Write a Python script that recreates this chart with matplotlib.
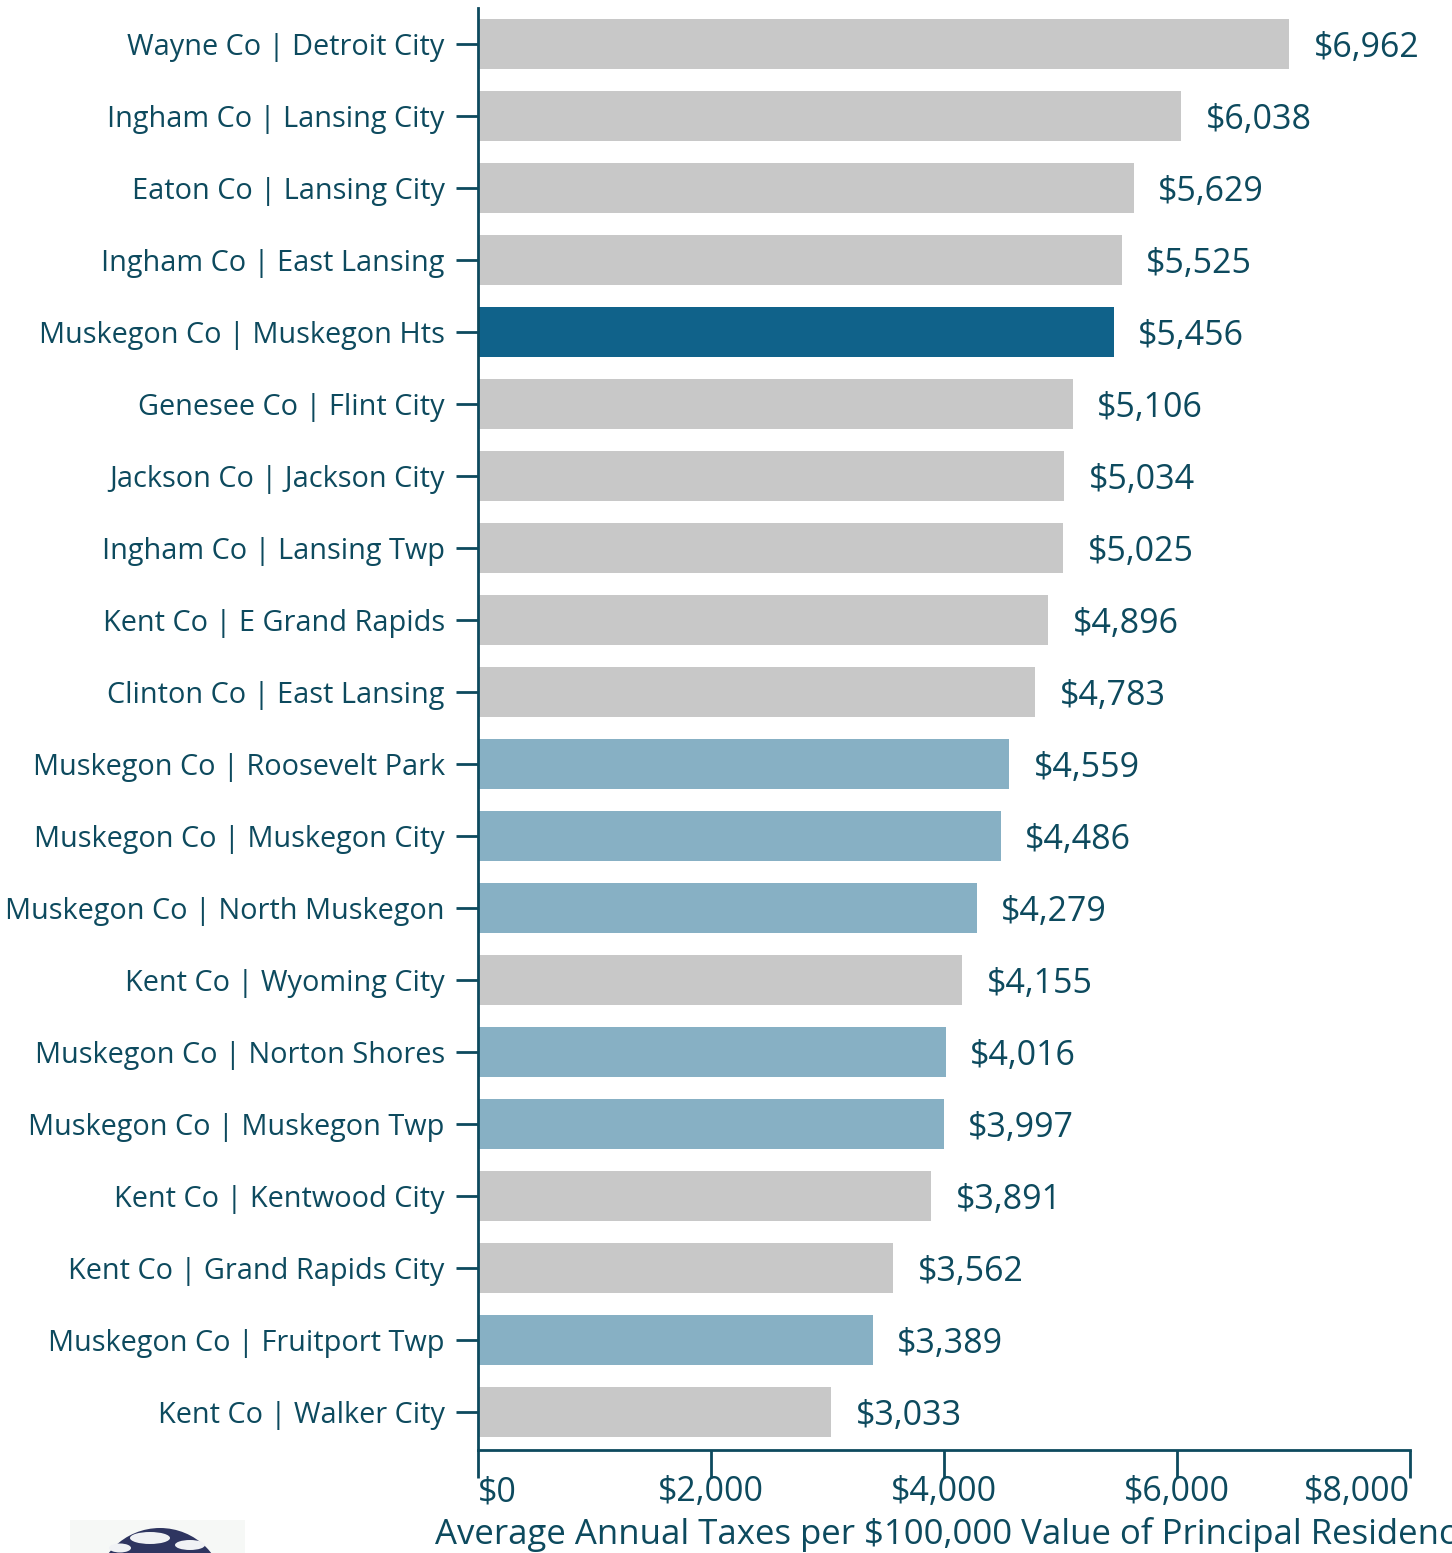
import numpy as np
import matplotlib.pyplot as plt
from matplotlib.patches import Circle, Ellipse, Rectangle

places = ['Wayne Co | Detroit City', 'Ingham Co | Lansing City', 'Eaton Co | Lansing City',
          'Ingham Co | East Lansing', 'Muskegon Co | Muskegon Hts', 'Genesee Co | Flint City',
          'Jackson Co | Jackson City', 'Ingham Co | Lansing Twp', 'Kent Co | E Grand Rapids',
          'Clinton Co | East Lansing', 'Muskegon Co | Roosevelt Park', 'Muskegon Co | Muskegon City',
          'Muskegon Co | North Muskegon', 'Kent Co | Wyoming City', 'Muskegon Co | Norton Shores',
          'Muskegon Co | Muskegon Twp', 'Kent Co | Kentwood City', 'Kent Co | Grand Rapids City',
          'Muskegon Co | Fruitport Twp', 'Kent Co | Walker City']
taxes = [6962, 6038, 5629, 5525, 5456, 5106, 5034, 5025, 4896, 4783,
         4559, 4486, 4279, 4155, 4016, 3997, 3891, 3562, 3389, 3033]
xticks = [0, 2000, 4000, 6000, 8000]
highlight = 'Muskegon Co | Muskegon Hts'

ink = '#0d4a5e'
gray = '#c8c8c8'
dark = '#10628a'
light = '#87b0c4'

plt.rcParams['font.family'] = ['Open Sans', 'DejaVu Sans']

colors = []
for p in places:
    if p == highlight:
        colors.append(dark)
    elif p.startswith('Muskegon'):
        colors.append(light)
    else:
        colors.append(gray)

fig = plt.figure(figsize=(14.52, 15.53), dpi=100)
ax = fig.add_axes([478/1452, 1 - 1450/1553, (1410-478)/1452, (1450-8)/1553])

y = np.arange(len(places))
ax.barh(y, taxes, height=0.69, color=colors)
ax.set_ylim(len(places) - 0.47, -0.5)
ax.set_xlim(0, 8000)

for yi, v in zip(y, taxes):
    ax.text(v + 210, yi, '${:,}'.format(v), va='center_baseline', ha='left',
            fontsize=24.5, color=ink)

ax.set_yticks(y)
ax.set_yticklabels(places, fontsize=20.8, color=ink)
ax.set_xticks(xticks)
labels = ax.set_xticklabels(['${:,}'.format(t) for t in xticks], fontsize=24.5, color=ink)
labels[0].set_ha('left')
labels[-1].set_ha('right')

for s in ['top', 'right']:
    ax.spines[s].set_visible(False)
for s in ['left', 'bottom']:
    ax.spines[s].set_color(ink)
    ax.spines[s].set_linewidth(2)
ax.tick_params(axis='y', length=16, width=2, color=ink, pad=8)
ax.tick_params(axis='x', length=20, width=2, color=ink, pad=-2)

fig.text(435/1452, 1 - 1535/1553, 'Average Annual Taxes per $100,000 Value of Principal Residence',
         fontsize=25, color=ink, ha='left', va='center')

# small globe logo peeking in at the bottom left
fig.patches.append(Rectangle((70/1452, 0), 175/1452, 33/1553, transform=fig.transFigure,
                             facecolor='#f6f8f6', edgecolor='none'))
fig.patches.append(Circle((160, -40), 65, transform=None, facecolor='#2e3560', edgecolor='none'))
fig.patches.append(Ellipse((150, 15), 40, 12, transform=None, facecolor='#f0f2f5', edgecolor='none'))
fig.patches.append(Ellipse((190, 8), 30, 10, transform=None, facecolor='#f0f2f5', edgecolor='none'))
fig.patches.append(Ellipse((120, 5), 22, 9, transform=None, facecolor='#f0f2f5', edgecolor='none'))

fig.savefig('out.png', dpi=100)
